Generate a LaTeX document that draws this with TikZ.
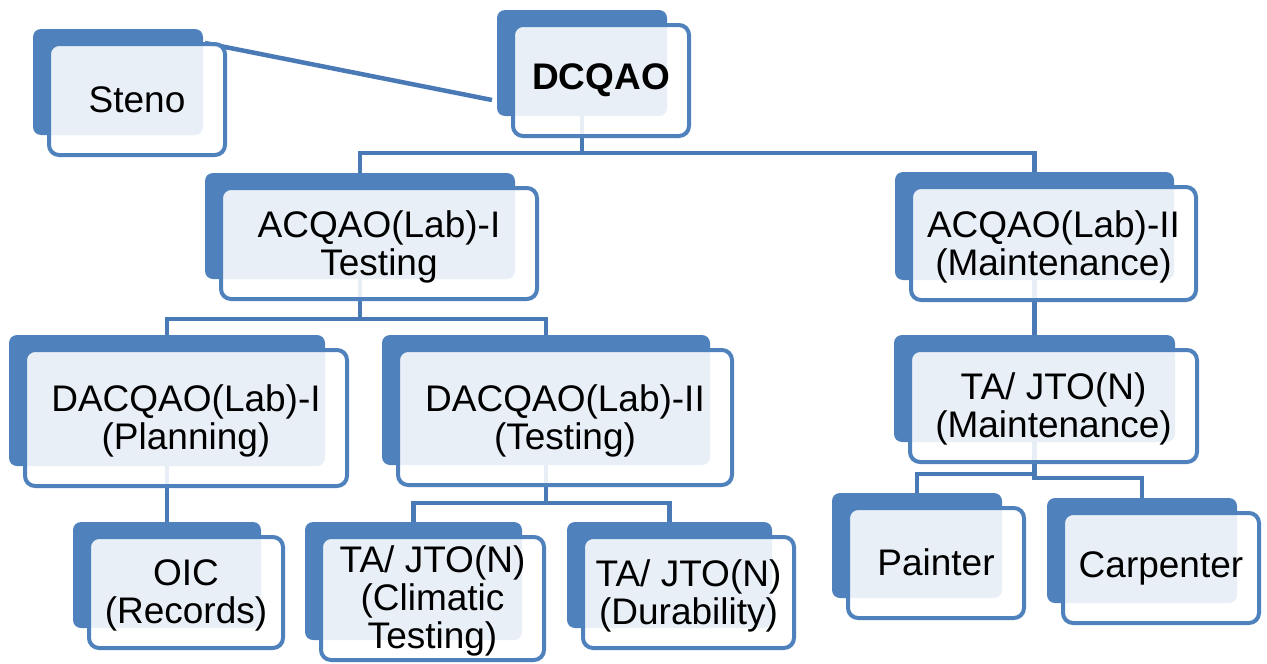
\documentclass[tikz,border=0pt]{standalone}
\usepackage{fontspec}
\setmainfont{Liberation Sans}
\usetikzlibrary{calc,backgrounds}
\definecolor{boxblue}{HTML}{4F81BD}
\definecolor{linkblue}{HTML}{4A7AB6}
\tikzset{
  backbox/.style={rectangle, fill=boxblue, draw=none, rounded corners=8pt, inner sep=0pt, outer sep=0pt},
  frontbox/.style={rectangle, draw=boxblue, line width=4pt, fill=white, fill opacity=0.88, rounded corners=10pt, inner sep=0pt, outer sep=0pt},
  boxtext/.style={font=\fontsize{37}{38}\selectfont, align=center, inner sep=0pt, text=black},
  conn/.style={draw=linkblue, line width=4.5pt}
}
\newcommand\orgbox[7][0]{%
  \node[backbox, minimum width={#5-#3}, minimum height={#6-#4}] (#2) at ({(#3+#5)/2},{(#4+#6)/2}) {};
  \node[frontbox, minimum width={#5-#3+6}, minimum height={#6-#4+5}] (#2-f) at ({(#3+#5)/2+19},{(#4+#6)/2+17.5}) {};
  \node[boxtext, yshift=#1pt] (#2-t) at (#2-f) {#7};
}
\begin{document}
\begin{tikzpicture}[x=1pt, y=-1pt]
\useasboundingbox (0,0) rectangle (1267,664);
\orgbox{steno}{33}{29}{203}{135}{Steno}
\orgbox{dcqao}{497}{10}{667}{116}{\textbf{DCQAO}}
\orgbox[-3]{acqaoa}{205}{173}{515}{279}{ACQAO(Lab)-I\\Testing}
\orgbox[-3]{acqaob}{895}{172}{1174}{280}{ACQAO(Lab)-II\\(Maintenance)}
\orgbox[-3]{dacqaoa}{9}{335}{325}{466}{DACQAO(Lab)-I\\(Planning)}
\orgbox[-3]{dacqaob}{382}{335}{710}{465}{DACQAO(Lab)-II\\(Testing)}
\orgbox[-3]{tajtom}{894}{335}{1175}{442}{TA/ JTO(N)\\(Maintenance)}
\orgbox[-3]{oic}{73}{522}{261}{628}{OIC\\(Records)}
\orgbox[-2]{clim}{305}{522}{522}{640}{TA/ JTO(N)\\(Climatic\\Testing)}
\orgbox[-3]{dura}{567}{522}{772}{628}{TA/ JTO(N)\\(Durability)}
\orgbox[1]{painter}{832}{493}{1002}{598}{Painter}
\orgbox{carp}{1047}{498}{1237}{603}{Carpenter}
\begin{pgfonlayer}{background}
\draw[conn] ($(steno.north east)+(2,14)$) -- ($(dcqao.south west)+(-5,-16)$);
\draw[conn] (dcqao.south) -- ++(0,37) -| (acqaoa.north);
\draw[conn] (dcqao.south) -- ++(0,37) -| (acqaob.north);
\draw[conn] (acqaoa.south) -- ++(0,40) -| (dacqaoa.north);
\draw[conn] (acqaoa.south) -- ++(0,40) -| (dacqaob.north);
\draw[conn] (acqaob.south) -- (acqaob.south |- tajtom.north);
\draw[conn] (dacqaoa.south) -- (dacqaoa.south |- oic.north);
\draw[conn] (dacqaob.south) -- ++(0,38) -| (clim.north);
\draw[conn] (dacqaob.south) -- ++(0,38) -| (dura.north);
\draw[conn] (tajtom.south) -- ++(0,32) -| (painter.north);
\draw[conn] (tajtom.south) -- ++(0,36) -| (carp.north);
\end{pgfonlayer}
\end{tikzpicture}
\end{document}
